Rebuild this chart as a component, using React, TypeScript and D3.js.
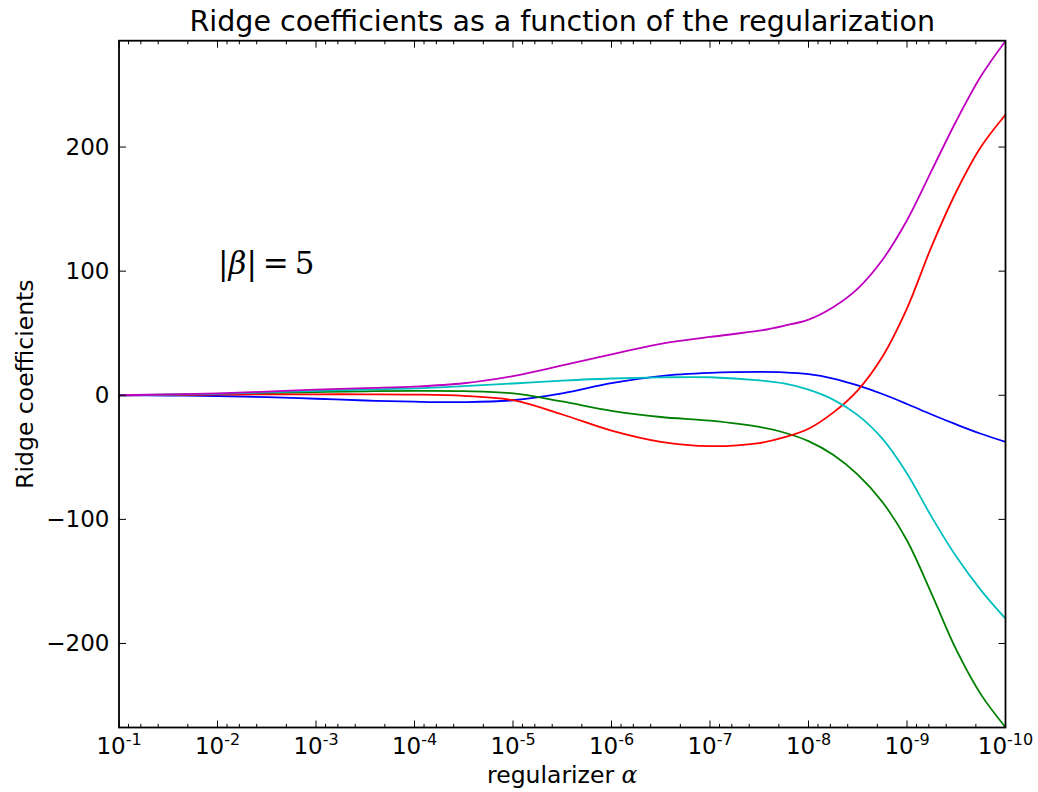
import React from "react";
import * as d3 from "d3";

// exponents of the regularizer alpha (10^e)
const alphaExps = [
  -1, -1.5, -2, -2.5, -3, -3.5, -4, -4.5, -5, -5.5, -6, -6.5, -7,
  -7.5, -7.75, -8, -8.25, -8.5, -8.75, -9, -9.25, -9.5, -9.75, -10,
];

const coefBlue = [
  0, -0.2, -0.6, -1.5, -2.8, -4.2, -5.2, -5.5, -4, 1.5, 9.7, 15.5, 18,
  18.8, 18.5, 17, 13.5, 8, 1, -7, -15.5, -23.5, -31, -37.5,
];
const coefGreen = [
  0, 0.5, 1, 1.8, 2.5, 3.2, 3.5, 3.3, 1.5, -5, -12.5, -17.5, -20.5,
  -25.5, -30, -37, -48, -64, -86, -117, -160, -205, -241, -267.5,
];
const coefRed = [
  0, 0.3, 0.5, 0.7, 0.8, 0.8, 0.6, -0.5, -4, -15.5, -28.5, -37.5, -41,
  -38.5, -34, -27, -14, 4, 31, 70, 120, 164, 200, 226,
];
const coefCyan = [
  0, 0.5, 1.2, 2.3, 3.5, 4.6, 5.5, 7.3, 9.5, 11.8, 13.5, 14.4, 14.5,
  12, 9.5, 4.5, -3.5, -16, -35, -63, -98, -130, -157, -180,
];
const coefMagenta = [
  0, 0.7, 1.5, 3, 4.5, 5.8, 7, 9.7, 15.5, 24, 33, 41.5, 47,
  52, 56, 61, 71, 86, 109, 141, 181, 221, 257, 285.5,
];

const seriesList = [
  { name: "b", color: "#0000ff", values: coefBlue },
  { name: "g", color: "#008000", values: coefGreen },
  { name: "r", color: "#ff0000", values: coefRed },
  { name: "c", color: "#00bfbf", values: coefCyan },
  { name: "m", color: "#bf00bf", values: coefMagenta },
];

const xMajorExps = [-1, -2, -3, -4, -5, -6, -7, -8, -9, -10];
const yTicks = [-200, -100, 0, 100, 200];
const yDomain = [-267.7, 285.7];

const W = 1038;
const H = 792;
const left = 119;
const right = 1005.5;
const top = 40.7;
const bottom = 727.5;

export default function App() {
  const x = d3.scaleLog().domain([1e-1, 1e-10]).range([left, right]);
  const y = d3.scaleLinear().domain(yDomain).range([bottom, top]);

  const line = d3
    .line<[number, number]>()
    .x((d) => x(Math.pow(10, d[0])))
    .y((d) => y(d[1]))
    .curve(d3.curveCatmullRom.alpha(0.5));

  const minorTicks: number[] = [];
  for (let k = 1; k < 10; k++) {
    for (const m of [2, 4, 6, 8]) {
      minorTicks.push(m * Math.pow(10, -(k + 1)));
    }
  }

  const font = "'DejaVu Sans', sans-serif";
  const majorLen = 7;
  const minorLen = 3.6;

  return (
    <svg
      width={W}
      height={H}
      style={{ position: "absolute", left: 0, top: 0, background: "#fff" }}
      fontFamily={font}
    >
      <rect x={0} y={0} width={W} height={H} fill="#fff" />
      <defs>
        <clipPath id="plotclip">
          <rect x={left} y={top} width={right - left} height={bottom - top} />
        </clipPath>
      </defs>
      <g clipPath="url(#plotclip)">
        {seriesList.map((s) => (
          <path
            key={s.name}
            d={line(alphaExps.map((e, i) => [e, s.values[i]] as [number, number])) || ""}
            fill="none"
            stroke={s.color}
            strokeWidth={1.8}
          />
        ))}
      </g>

      {/* ticks */}
      <g stroke="#000" strokeWidth={1}>
        {xMajorExps.map((e) => {
          const xx = x(Math.pow(10, e));
          return (
            <g key={"xm" + e}>
              <line x1={xx} x2={xx} y1={bottom} y2={bottom - majorLen} />
              <line x1={xx} x2={xx} y1={top} y2={top + majorLen} />
            </g>
          );
        })}
        {minorTicks.map((v, i) => {
          const xx = x(v);
          return (
            <g key={"xn" + i}>
              <line x1={xx} x2={xx} y1={bottom} y2={bottom - minorLen} />
              <line x1={xx} x2={xx} y1={top} y2={top + minorLen} />
            </g>
          );
        })}
        {yTicks.map((v) => {
          const yy = y(v);
          return (
            <g key={"y" + v}>
              <line x1={left} x2={left + majorLen} y1={yy} y2={yy} />
              <line x1={right} x2={right - majorLen} y1={yy} y2={yy} />
            </g>
          );
        })}
      </g>

      {/* frame */}
      <rect
        x={left}
        y={top}
        width={right - left}
        height={bottom - top}
        fill="none"
        stroke="#000"
        strokeWidth={1.8}
      />

      {/* x tick labels */}
      {xMajorExps.map((e) => (
        <text
          key={"xl" + e}
          x={x(Math.pow(10, e))}
          y={754}
          fontSize={23}
          textAnchor="middle"
          fill="#000"
        >
          10
          <tspan fontSize={16} dy={-9}>
            {"-" + Math.abs(e)}
          </tspan>
        </text>
      ))}

      {/* y tick labels */}
      {yTicks.map((v) => (
        <text
          key={"yl" + v}
          x={109.5}
          y={y(v) + 8}
          fontSize={23}
          textAnchor="end"
          fill="#000"
        >
          {v < 0 ? "\u2212" + Math.abs(v) : String(v)}
        </text>
      ))}

      {/* title */}
      <text x={(left + right) / 2} y={31} fontSize={28.5} textAnchor="middle" fill="#000">
        Ridge coefficients as a function of the regularization
      </text>

      {/* axis labels */}
      <text x={(left + right) / 2} y={783} fontSize={23.5} textAnchor="middle" fill="#000">
        regularizer{" "}
        <tspan fontFamily="'DejaVu Serif', serif" fontStyle="italic">
          α
        </tspan>
      </text>
      <text
        transform={`translate(33, ${(top + bottom) / 2}) rotate(-90)`}
        fontSize={23.5}
        textAnchor="middle"
        fill="#000"
      >
        Ridge coefficients
      </text>

      {/* annotation */}
      <text x={218} y={274} fontSize={31} fontFamily="'DejaVu Serif', 'Liberation Serif', serif" fill="#000">
        |<tspan fontStyle="italic">β</tspan>|
        <tspan dx={6}>=</tspan>
        <tspan dx={6}>5</tspan>
      </text>
    </svg>
  );
}
